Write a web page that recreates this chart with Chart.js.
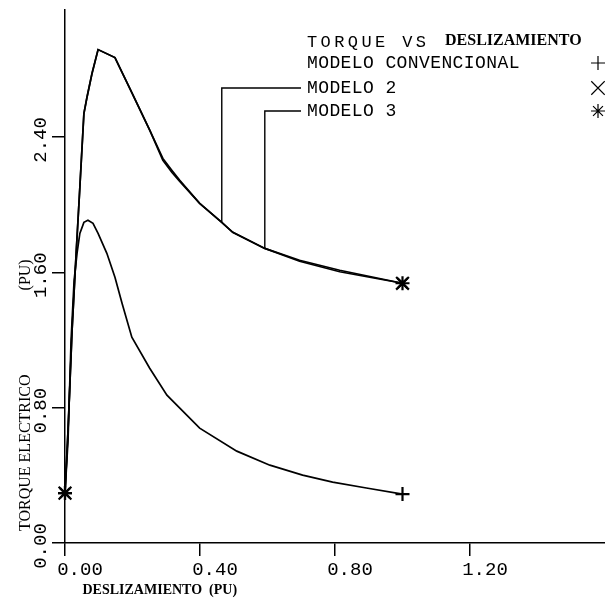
<!DOCTYPE html>
<html>
<head>
<meta charset="utf-8">
<script src="https://cdn.jsdelivr.net/npm/chart.js@4/dist/chart.umd.min.js"></script>
<style>
  html, body { margin: 0; padding: 0; background: #fff; }
</style>
</head>
<body>
<canvas id="chart" width="605" height="601"></canvas>
<script>
// Torque vs deslizamiento

// modelo convencional (lower curve)
const slipConv = [0, 0.009, 0.018, 0.027, 0.036, 0.044, 0.056, 0.068, 0.083, 0.098,
  0.124, 0.148, 0.169, 0.198, 0.251, 0.302, 0.399, 0.509, 0.607, 0.704, 0.793, 0.893, 1.0];
const torqueConv = [0.295, 0.608, 1.198, 1.553, 1.718, 1.830, 1.895, 1.907, 1.889, 1.830,
  1.712, 1.570, 1.417, 1.216, 1.033, 0.874, 0.679, 0.543, 0.460, 0.401, 0.360, 0.325, 0.289];

// modelo 2 and modelo 3 (upper curves, almost on top of each other)
const slipUpper = [0, 0.009, 0.021, 0.033, 0.044, 0.056, 0.065, 0.080, 0.098, 0.148,
  0.198, 0.251, 0.290, 0.317, 0.340, 0.399, 0.4645, 0.497, 0.592, 0.695, 0.814, 1.0];
const torqueM2 = [0.295, 0.667, 1.257, 1.712, 2.102, 2.538, 2.633, 2.775, 2.916, 2.869,
  2.662, 2.440, 2.273, 2.202, 2.143, 2.007, 1.895, 1.836, 1.741, 1.671, 1.612, 1.535];
const torqueM3 = [0.295, 0.667, 1.257, 1.712, 2.102, 2.538, 2.633, 2.775, 2.916, 2.869,
  2.662, 2.440, 2.262, 2.190, 2.137, 2.007, 1.895, 1.836, 1.741, 1.665, 1.603, 1.535];

const seriesNames = ['MODELO CONVENCIONAL', 'MODELO 2', 'MODELO 3'];
const seriesMarkers = ['cross', 'crossRot', 'star'];
// index of the point each legend leader line points at (null = no leader)
const leaderIdx = [null, 16, 18];

const xTicks = [0, 0.4, 0.8, 1.2];
const yTicks = [0, 0.8, 1.6, 2.4];

const MONO = '"Liberation Mono", "DejaVu Sans Mono", monospace';
const SERIF = '"Liberation Serif", "DejaVu Serif", serif';

function toPoints(xs, ys) {
  return xs.map((x, i) => ({ x: x, y: ys[i] }));
}

// markers only on first and last point, like the plotter did
function endMarkers(ctx) {
  const n = ctx.dataset.data.length;
  if (ctx.dataIndex !== 0 && ctx.dataIndex !== n - 1) return 0;
  return ctx.dataset.pointStyle === 'crossRot' ? 9 : 7;
}

function makeDataset(label, xs, ys, marker) {
  return {
    label: label,
    data: toPoints(xs, ys),
    borderColor: '#000',
    backgroundColor: '#000',
    borderWidth: 1.7,
    tension: 0,
    clip: false,
    pointStyle: marker,
    pointRadius: endMarkers,
    pointBorderWidth: 2.2,
    pointBorderColor: '#000'
  };
}

// no extra room for tick labels, the plot box is fixed
function noPadding(scale) {
  scale.paddingLeft = 0;
  scale.paddingRight = 0;
  scale.paddingTop = 0;
  scale.paddingBottom = 0;
}

// legend block in the top right + leader lines to the curves
const plotterLegend = {
  id: 'plotterLegend',
  afterDraw(chart) {
    const ctx = chart.ctx;
    const xs = chart.scales.x, ys = chart.scales.y;
    const textX = 307, markX = 598, leaderEnd = 301;
    const rowY = [63, 88, 111];

    ctx.save();
    ctx.fillStyle = '#000';
    ctx.strokeStyle = '#000';
    ctx.textBaseline = 'middle';
    ctx.textAlign = 'left';

    ctx.font = '17px ' + MONO;
    ctx.letterSpacing = '3.4px';
    ctx.fillText('TORQUE VS', textX, 42);
    ctx.letterSpacing = '0px';
    ctx.font = 'bold 16px ' + SERIF;
    ctx.fillText('DESLIZAMIENTO', 445, 41);

    chart.data.datasets.forEach((ds, i) => {
      ctx.font = '18px ' + MONO;
      ctx.letterSpacing = '0.4px';
      ctx.fillText(seriesNames[i], textX, rowY[i]);
      ctx.letterSpacing = '0px';
      const r = ds.pointStyle === 'crossRot' ? 9.5 : 7;
      ctx.lineWidth = 1.2;
      Chart.helpers.drawPoint(ctx, {
        pointStyle: ds.pointStyle, radius: r, borderWidth: 1.2, rotation: 0
      }, markX, rowY[i]);

      const k = leaderIdx[i];
      if (k !== null) {
        const p = ds.data[k];
        const px = xs.getPixelForValue(p.x);
        const py = ys.getPixelForValue(p.y);
        ctx.lineWidth = 1.4;
        ctx.beginPath();
        ctx.moveTo(px, py);
        ctx.lineTo(px, rowY[i]);
        ctx.lineTo(leaderEnd, rowY[i]);
        ctx.stroke();
      }
    });
    ctx.restore();
  }
};

new Chart(document.getElementById('chart'), {
  type: 'line',
  data: {
    datasets: [
      makeDataset(seriesNames[0], slipConv, torqueConv, seriesMarkers[0]),
      makeDataset(seriesNames[1], slipUpper, torqueM2, seriesMarkers[1]),
      makeDataset(seriesNames[2], slipUpper, torqueM3, seriesMarkers[2])
    ]
  },
  options: {
    responsive: false,
    animation: false,
    layout: { autoPadding: false, padding: { top: 10, right: 0, left: 0, bottom: 0 } },
    plugins: {
      legend: { display: false },
      tooltip: { enabled: false }
    },
    scales: {
      x: {
        type: 'linear',
        min: 0,
        max: 1.6,
        afterFit(scale) { scale.height = 58; noPadding(scale); },
        afterBuildTicks(scale) { scale.ticks = xTicks.map(v => ({ value: v })); },
        grid: { drawOnChartArea: false, tickLength: 13, color: '#000', lineWidth: 1.5 },
        border: { display: true, color: '#000', width: 1.5 },
        ticks: {
          color: '#000',
          font: { family: MONO, size: 19 },
          padding: 3,
          labelOffset: 15,
          maxRotation: 0,
          callback: v => v.toFixed(2)
        },
        title: {
          display: true,
          text: '     DESLIZAMIENTO  (PU)',
          align: 'start',
          color: '#000',
          font: { family: SERIF, size: 14, weight: 'bold' },
          padding: { top: 0, bottom: 2 }
        }
      },
      y: {
        type: 'linear',
        min: 0,
        max: 3.15,
        afterFit(scale) { scale.width = 65; noPadding(scale); },
        afterBuildTicks(scale) { scale.ticks = yTicks.map(v => ({ value: v })); },
        grid: { drawOnChartArea: false, tickLength: 13, color: '#000', lineWidth: 1.5 },
        border: { display: true, color: '#000', width: 1.5 },
        ticks: {
          color: '#000',
          font: { family: MONO, size: 19 },
          minRotation: 90,
          maxRotation: 90,
          crossAlign: 'center',
          padding: -12,
          labelOffset: 3,
          callback: v => v.toFixed(2)
        },
        title: {
          display: true,
          text: '   TORQUE ELECTRICO                     (PU)',
          align: 'start',
          color: '#000',
          font: { family: SERIF, size: 16 },
          padding: { top: 16, bottom: 0 }
        }
      }
    }
  },
  plugins: [plotterLegend]
});
</script>
</body>
</html>
